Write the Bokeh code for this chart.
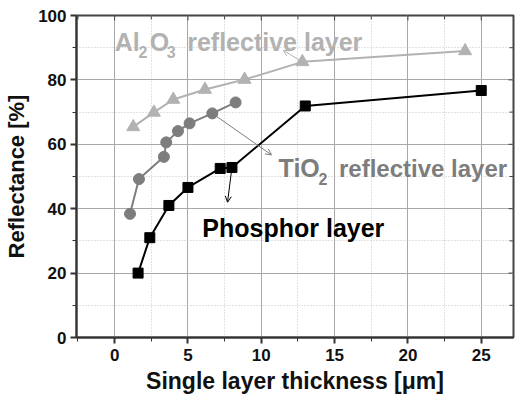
from bokeh.plotting import figure
from bokeh.models import Range1d, FixedTicker, Arrow, OpenHead
from bokeh.core.properties import value
from bokeh.embed import file_html
from bokeh.resources import INLINE

# ---- data ----
phos_x = [1.6, 2.4, 3.7, 5.0, 7.2, 8.0, 13.0, 25.0]
phos_y = [20.0, 31.0, 41.0, 46.6, 52.5, 52.8, 71.9, 76.7]

tio2_x = [1.05, 1.66, 3.36, 3.52, 4.32, 5.11, 6.66, 8.25]
tio2_y = [38.4, 49.2, 56.1, 60.6, 64.1, 66.5, 69.6, 73.0]

al2o3_x = [1.27, 2.68, 4.0, 6.16, 8.86, 12.8, 23.9]
al2o3_y = [65.4, 69.9, 73.9, 77.0, 80.1, 85.6, 89.0]

x_major = [0, 5, 10, 15, 20, 25]
x_minor = [-2.5, 2.5, 7.5, 12.5, 17.5, 22.5]
y_major = [0, 20, 40, 60, 80, 100]
y_minor = [10, 30, 50, 70, 90]

X0, X1 = -2.6, 27.2
Y0, Y1 = 0, 100

FONT = "Liberation Sans"
C_AL = "#b2b2b2"
C_TI = "#7d7d7d"
C_PH = "#000000"

p = figure(width=515, height=396, output_backend="svg", toolbar_location=None,
           x_range=Range1d(X0, X1), y_range=Range1d(Y0, Y1),
           min_border_left=76, min_border_right=2, min_border_top=15, min_border_bottom=58)
p.background_fill_color = "white"
p.border_fill_color = "white"
p.outline_line_color = "#444444"
p.outline_line_width = 2

# grids
p.xgrid.ticker = FixedTicker(ticks=x_major, minor_ticks=x_minor)
p.ygrid.ticker = FixedTicker(ticks=y_major, minor_ticks=y_minor)
for g in (p.xgrid, p.ygrid):
    g.grid_line_color = "#a8a8a8"
    g.grid_line_width = 1
    g.minor_grid_line_color = "#c4c4c4"
    g.minor_grid_line_dash = "1 2"
    g.minor_grid_line_width = 1

# axes
xa = p.xaxis[0]
xa.ticker = FixedTicker(ticks=x_major, minor_ticks=x_minor)
ya = p.yaxis[0]
ya.ticker = FixedTicker(ticks=y_major, minor_ticks=y_minor)
for ax in (xa, ya):
    ax.axis_line_color = "#333333"
    ax.axis_line_width = 2
    ax.major_tick_line_color = "#333333"
    ax.major_tick_line_width = 2
    ax.minor_tick_line_color = "#333333"
    ax.minor_tick_line_width = 1
    ax.major_tick_out = 6
    ax.major_tick_in = 0
    ax.minor_tick_out = 4
    ax.minor_tick_in = 0
    ax.major_label_text_font = FONT
    ax.major_label_text_font_style = "bold"
    ax.major_label_text_font_size = "17px"
    ax.major_label_text_color = "#111111"
    ax.axis_label_text_font = FONT
    ax.axis_label_text_font_style = "bold"
    ax.axis_label_text_color = "#111111"
xa.axis_label = "Single layer thickness [\u03bcm]"
ya.axis_label = "Reflectance [%]"
xa.axis_label_text_font_size = "23px"
ya.axis_label_text_font_size = "22px"
xa.major_label_standoff = 5
xa.axis_label_standoff = 4
ya.major_label_standoff = 4
ya.axis_label_standoff = 6

# inward ticks on the top and right frame edges
px_x = (X1 - X0) / 437.0
px_y = (Y1 - Y0) / 323.0
top_x = x_major + x_minor
top_len = [5 * px_y] * len(x_major) + [4 * px_y] * len(x_minor)
p.segment(x0=top_x, y0=[Y1] * len(top_x), x1=top_x, y1=[Y1 - l for l in top_len],
          line_color="#444444", line_width=1)
right_y = y_major + y_minor
right_len = [5 * px_x] * len(y_major) + [4 * px_x] * len(y_minor)
p.segment(x0=[X1] * len(right_y), y0=right_y, x1=[X1 - l for l in right_len], y1=right_y,
          line_color="#444444", line_width=1)

# series
p.line(al2o3_x, al2o3_y, line_color=C_AL, line_width=2)
p.scatter(al2o3_x, al2o3_y, marker="triangle", size=13, fill_color=C_AL, line_color=C_AL)

p.line(tio2_x, tio2_y, line_color=C_TI, line_width=2)
p.scatter(tio2_x, tio2_y, marker="circle", size=11, fill_color=C_TI, line_color=C_TI)

p.line(phos_x, phos_y, line_color=C_PH, line_width=2)
p.scatter(phos_x, phos_y, marker="square", size=10, fill_color=C_PH, line_color=C_PH)

# arrows
p.add_layout(Arrow(end=OpenHead(size=6, line_color=C_AL, line_width=1),
                   x_start=12.8, y_start=85.6, x_end=11.5, y_end=89.2,
                   line_color=C_AL, line_width=1))
p.add_layout(Arrow(end=OpenHead(size=6, line_color=C_TI, line_width=1),
                   x_start=6.66, y_start=69.6, x_end=10.7, y_end=56.7,
                   line_color=C_TI, line_width=1))
p.add_layout(Arrow(end=OpenHead(size=6, line_color=C_PH, line_width=1),
                   x_start=8.0, y_start=52.8, x_end=7.7, y_end=42.0,
                   line_color=C_PH, line_width=1))

# annotation texts
def txt(x, y, s, color, size):
    p.text(x=[x], y=[y], text=[s], text_color=color, text_font=value(FONT),
           text_font_style="bold", text_font_size=size,
           text_align="left", text_baseline="alphabetic")

txt(0.0, 91.8, "Al", C_AL, "25px")
txt(1.62, 88.6, "2", C_AL, "16px")
txt(2.4, 91.8, "O", C_AL, "25px")
txt(3.55, 88.6, "3", C_AL, "16px")
txt(4.95, 91.8, "reflective layer", C_AL, "25px")

txt(11.18, 52.6, "TiO", C_TI, "25px")
txt(13.9, 49.2, "2", C_TI, "16px")
txt(15.3, 52.6, "reflective layer", C_TI, "24px")

txt(5.98, 33.9, "Phosphor layer", C_PH, "25px")

open("out.html", "w").write(file_html(p, INLINE))
